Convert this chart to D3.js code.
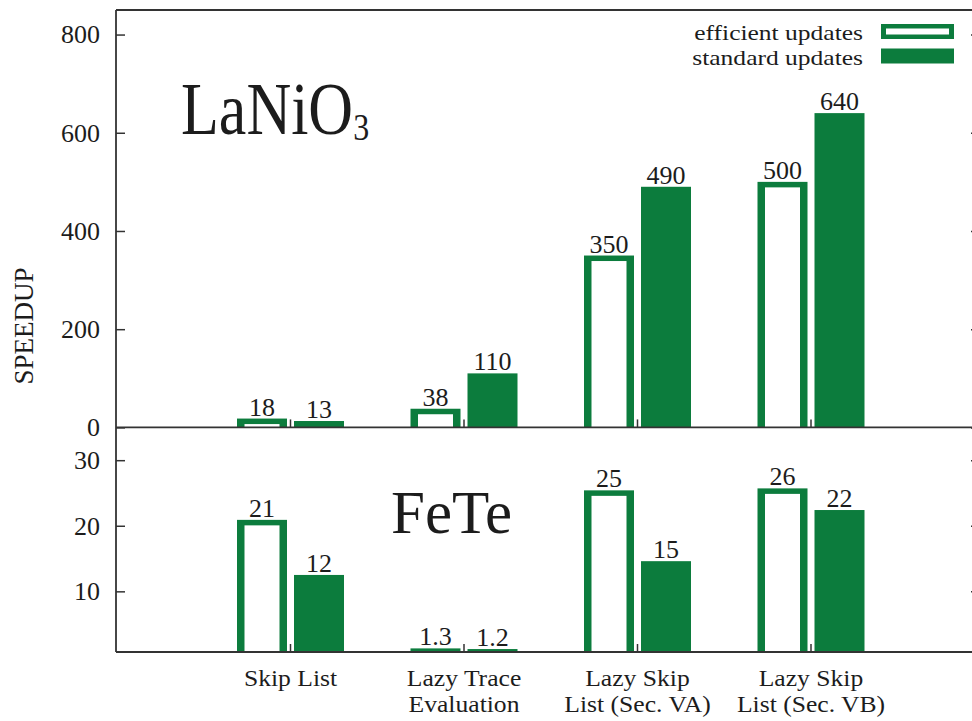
<!DOCTYPE html>
<html>
<head>
<meta charset="utf-8">
<script src="https://cdn.jsdelivr.net/npm/d3@7"></script>
<style>
body { margin: 0; background: white; }
</style>
</head>
<body>
<div id="viz-container"></div>
<script>
let svgWidth = 972;
let svgHeight = 721;
let green = "#0c7c3d";
let ink = "#1c1c1c";
let serif = "'Liberation Serif', 'Times New Roman', serif";

// data
let categories = ["Skip List", "Lazy Trace Evaluation", "Lazy Skip List (Sec. VA)", "Lazy Skip List (Sec. VB)"];
let categoryLines = [["Skip List"], ["Lazy Trace", "Evaluation"], ["Lazy Skip", "List (Sec. VA)"], ["Lazy Skip", "List (Sec. VB)"]];
let laniEfficient = [18, 38, 350, 500];
let laniStandard = [13, 110, 490, 640];
let laniEfficientLabels = ["18", "38", "350", "500"];
let laniStandardLabels = ["13", "110", "490", "640"];
let feteEfficient = [20.9, 1.3, 25.4, 25.7];
let feteStandard = [12.5, 1.2, 14.6, 22.4];
let feteEfficientLabels = ["21", "1.3", "25", "26"];
let feteStandardLabels = ["12", "1.2", "15", "22"];
let topTicks = [0, 200, 400, 600, 800];
let bottomTicks = [10, 20, 30];
let seriesNames = ["efficient updates", "standard updates"];

let plotLeft = 116;
let plotRight = 980;
let plotTop = 10;
let plotMid = 427.4;
let plotBottom = 652;
let barW = 50;
let gap = 3.5;

let viz = d3.select("#viz-container")
  .append("svg")
    .attr("width", svgWidth)
    .attr("height", svgHeight)
    .attr("id", "viz")
    .style("background-color", "white")
    ;

let x = d3.scalePoint()
    .domain(categories)
    .range([290.5, 811])
    ;
let yTop = d3.scaleLinear().domain([0, 850]).range([plotMid, plotTop]);
let yBot = d3.scaleLinear().domain([0.75, 35]).range([plotBottom, plotMid]);

let defs = viz.append("defs");
defs.append("clipPath").attr("id", "clipTop")
  .append("rect")
    .attr("x", plotLeft).attr("y", plotTop)
    .attr("width", plotRight - plotLeft).attr("height", plotMid - plotTop)
    ;
defs.append("clipPath").attr("id", "clipBot")
  .append("rect")
    .attr("x", plotLeft).attr("y", plotMid)
    .attr("width", plotRight - plotLeft).attr("height", plotBottom - plotMid)
    ;

function makeRows(eff, std, effLab, stdLab){
  return categories.map(function(c, i){
    return {cat: c, eff: eff[i], std: std[i], effLab: effLab[i], stdLab: stdLab[i]};
  });
}

function drawPanel(rows, y, base, clipId){
  let g = viz.append("g").attr("clip-path", "url(#" + clipId + ")");

  // efficient: outlined bars
  g.selectAll(".effOuter").data(rows).enter()
    .append("rect")
    .attr("class", "effOuter")
    .attr("x", d => x(d.cat) - gap - barW)
    .attr("y", d => y(d.eff))
    .attr("width", barW)
    .attr("height", d => base - y(d.eff) + 10)
    .attr("fill", green)
    ;
  g.selectAll(".effInner").data(rows).enter()
    .append("rect")
    .attr("class", "effInner")
    .attr("x", d => x(d.cat) - gap - barW + 7.5)
    .attr("y", d => y(d.eff) + 5.5)
    .attr("width", barW - 15)
    .attr("height", d => Math.max(0, base - y(d.eff) - 5.5 + 10))
    .attr("fill", "white")
    ;
  // standard: solid bars
  g.selectAll(".stdBar").data(rows).enter()
    .append("rect")
    .attr("class", "stdBar")
    .attr("x", d => x(d.cat) + gap)
    .attr("y", d => y(d.std))
    .attr("width", barW)
    .attr("height", d => base - y(d.std) + 10)
    .attr("fill", green)
    ;

  viz.selectAll(null).data(rows).enter()
    .append("text")
    .text(d => d.effLab)
    .attr("x", d => x(d.cat) - gap - barW / 2)
    .attr("y", d => y(d.eff) - 3)
    .attr("text-anchor", "middle")
    .attr("font-family", serif)
    .attr("font-size", 26)
    .attr("fill", ink)
    ;
  viz.selectAll(null).data(rows).enter()
    .append("text")
    .text(d => d.stdLab)
    .attr("x", d => x(d.cat) + gap + barW / 2)
    .attr("y", d => y(d.std) - 3)
    .attr("text-anchor", "middle")
    .attr("font-family", serif)
    .attr("font-size", 26)
    .attr("fill", ink)
    ;

  // little category ticks on the base line
  viz.selectAll(null).data(categories).enter()
    .append("line")
    .attr("x1", d => x(d)).attr("x2", d => x(d))
    .attr("y1", base).attr("y2", base - 8)
    .attr("stroke", "#333")
    .attr("stroke-width", 1.5)
    ;
}

drawPanel(makeRows(laniEfficient, laniStandard, laniEfficientLabels, laniStandardLabels), yTop, plotMid, "clipTop");
drawPanel(makeRows(feteEfficient, feteStandard, feteEfficientLabels, feteStandardLabels), yBot, plotBottom, "clipBot");

// y axes, ticks point inward, mirrored on the right
function styleAxis(sel){
  sel.select(".domain").remove();
  sel.selectAll(".tick line").attr("stroke", "#333").attr("stroke-width", 1.5);
  sel.selectAll(".tick text")
    .attr("font-family", serif)
    .attr("font-size", 26)
    .attr("fill", ink)
    ;
}

viz.append("g")
    .attr("transform", "translate(" + plotLeft + ",0)")
    .call(d3.axisLeft(yTop).tickValues(topTicks).tickSize(-9).tickPadding(16))
    .call(styleAxis)
    ;
viz.append("g")
    .attr("transform", "translate(" + plotLeft + ",0)")
    .call(d3.axisLeft(yBot).tickValues(bottomTicks).tickSize(-9).tickPadding(16))
    .call(styleAxis)
    ;
viz.append("g")
    .attr("transform", "translate(" + plotRight + ",0)")
    .call(d3.axisRight(yTop).tickValues(topTicks).tickSize(-9).tickFormat(""))
    .call(styleAxis)
    ;
viz.append("g")
    .attr("transform", "translate(" + plotRight + ",0)")
    .call(d3.axisRight(yBot).tickValues(bottomTicks).tickSize(-9).tickFormat(""))
    .call(styleAxis)
    ;

// frame + divider
let frame = [
  [plotLeft, plotTop, plotRight, plotTop],
  [plotLeft, plotMid, plotRight, plotMid],
  [plotLeft, plotBottom, plotRight, plotBottom],
  [plotLeft, plotTop, plotLeft, plotBottom],
  [plotRight, plotTop, plotRight, plotBottom]
];
viz.selectAll(".frame").data(frame).enter()
  .append("line")
  .attr("class", "frame")
  .attr("x1", d => d[0]).attr("y1", d => d[1])
  .attr("x2", d => d[2]).attr("y2", d => d[3])
  .attr("stroke", "#333")
  .attr("stroke-width", 1.8)
  ;

// category labels under the bottom panel (slightly widened so two lines fit tight)
let catLabels = viz.selectAll(".catLabel").data(categories).enter()
  .append("text")
  .attr("class", "catLabel")
  .attr("transform", d => "translate(" + x(d) + ",0) scale(1.09,1)")
  .attr("text-anchor", "middle")
  .attr("font-family", serif)
  .attr("font-size", 23.5)
  .attr("fill", ink)
  ;
catLabels.selectAll("tspan").data((d, i) => categoryLines[i]).enter()
  .append("tspan")
  .text(d => d)
  .attr("x", 0)
  .attr("y", (d, j) => 686 + j * 26.5)
  ;

viz.append("text")
    .text("SPEEDUP")
    .attr("transform", "translate(33,326) rotate(-90)")
    .attr("text-anchor", "middle")
    .attr("font-family", serif)
    .attr("font-size", 27)
    .attr("fill", ink)
    ;

// panel names
let lani = viz.append("text")
    .attr("transform", "translate(181,134) scale(1,1.2)")
    .attr("font-family", serif)
    .attr("font-size", 62)
    .attr("fill", ink)
    ;
lani.append("tspan").text("LaNiO");
lani.append("tspan").text("3").attr("font-size", 32).attr("dy", 5);

viz.append("text")
    .text("FeTe")
    .attr("x", 391)
    .attr("y", 533)
    .attr("font-family", serif)
    .attr("font-size", 61)
    .attr("fill", ink)
    ;

// legend
let legend = viz.selectAll(".legendItem").data(seriesNames).enter()
  .append("g")
  .attr("class", "legendItem")
  .attr("transform", (d, i) => "translate(0," + (i * 24.5) + ")")
  ;
legend.append("text")
  .text(d => d)
  .attr("transform", "translate(863,40) scale(1.16,1)")
  .attr("text-anchor", "end")
  .attr("font-family", serif)
  .attr("font-size", 22)
  .attr("fill", ink)
  ;
legend.append("rect")
  .attr("x", 881).attr("y", 24)
  .attr("width", 73).attr("height", 15)
  .attr("fill", green)
  ;
legend.filter((d, i) => i == 0)
  .append("rect")
  .attr("x", 886).attr("y", 28.5)
  .attr("width", 63).attr("height", 6)
  .attr("fill", "white")
  ;
</script>
</body>
</html>
